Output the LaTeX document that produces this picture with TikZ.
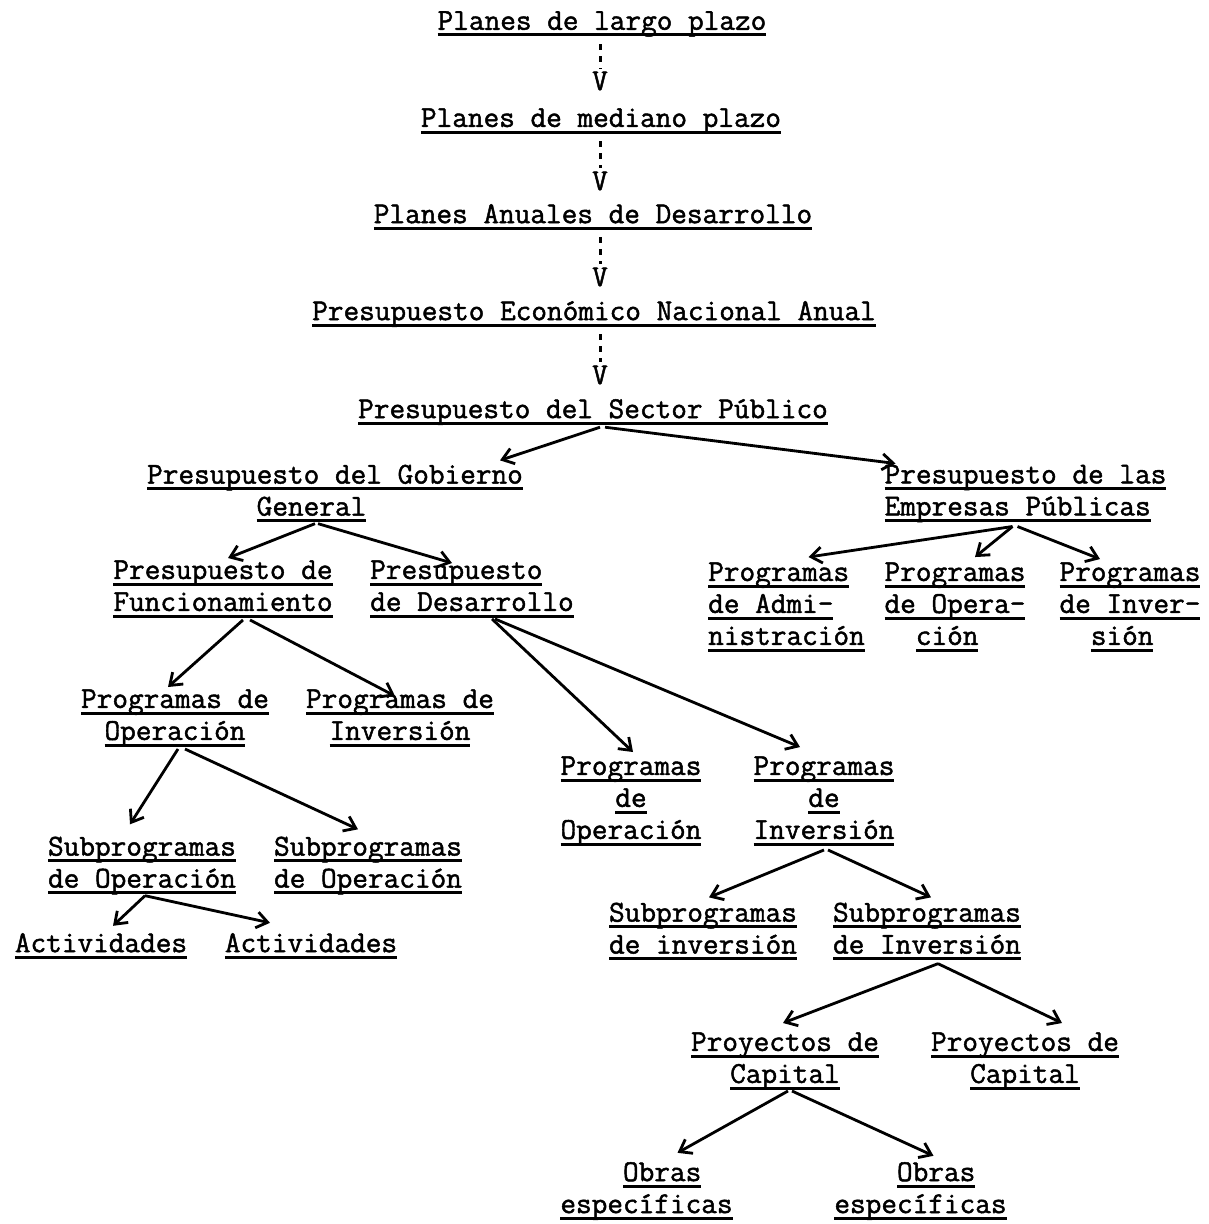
\documentclass[tikz,border=0pt]{standalone}
\usepackage{fontspec}
\newfontfamily\maquina[FakeBold=1.5]{Latin Modern Mono}
\usetikzlibrary{arrows.meta}
\usetikzlibrary{calc}

\newbox\ulbox
\newcommand{\uln}[1]{\setbox\ulbox=\hbox{#1}\rlap{\rule[-0.22em]{\wd\ulbox}{0.1em}}\box\ulbox}
\newcommand{\skipch}[1]{\hspace*{#1\fontcharwd\font`x}}

\tikzset{
  caja/.style={font=\maquina\fontsize{17.3}{18.2}\selectfont, inner sep=0pt, align=center},
  flecha/.style={-{Straight Barb[length=0.22cm,width=0.32cm]}, line width=1.6pt},
  guiones/.style={line width=1.7pt, dash pattern=on 0.12cm off 0.12cm,
    shorten <=0.14cm, shorten >=0.06cm},
}

\begin{document}
\begin{tikzpicture}[x=0.02cm, y=-0.02cm]
  \useasboundingbox (0,0) rectangle (1209,1224);

  % cadena de planes
  \node[caja] (lp) at (602,24) {\uln{Planes de largo plazo}};
  \node[caja] (v1) at (600,81) {V};
  \node[caja] (mp) at (601,121) {\uln{Planes de mediano plazo}};
  \node[caja] (v2) at (600,181) {V};
  \node[caja] (pad) at (593,217) {\uln{Planes Anuales de Desarrollo}};
  \node[caja] (v3) at (600,277) {V};
  \node[caja] (pen) at (594,314) {\uln{Presupuesto Económico Nacional Anual}};
  \node[caja] (v4) at (600,375) {V};
  \node[caja] (psp) at (593,412) {\uln{Presupuesto del Sector Público}};

  \draw[guiones] (lp.south -| v1.north) -- (v1.north);
  \draw[guiones] (mp.south -| v2.north) -- (v2.north);
  \draw[guiones] (pad.south -| v3.north) -- (v3.north);
  \draw[guiones] (pen.south -| v4.north) -- (v4.north);

  % gobierno general
  \node[caja, align=left] (gg) at (335,493.5) {\uln{Presupuesto del Gobierno}\\\skipch{7}\uln{General}};
  \node[caja] (fun) at (223,589) {\uln{Presupuesto de}\\\uln{Funcionamiento}};
  \node[caja, align=left] (des) at (472,589) {\uln{Presupuesto}\\\uln{de Desarrollo}};
  \node[caja] (pro) at (175,718) {\uln{Programas de}\\\uln{Operación}};
  \node[caja] (pri) at (400,718) {\uln{Programas de}\\\uln{Inversión}};
  \node[caja] (so1) at (142,865.5) {\uln{Subprogramas}\\\uln{de Operación}};
  \node[caja] (so2) at (368,865.5) {\uln{Subprogramas}\\\uln{de Operación}};
  \node[caja] (ac1) at (101,946) {\uln{Actividades}};
  \node[caja] (ac2) at (311,946) {\uln{Actividades}};
  \node[caja] (pdo) at (631,801) {\uln{Programas}\\\uln{de}\\\uln{Operación}};
  \node[caja] (pdi) at (824,801) {\uln{Programas}\\\uln{de}\\\uln{Inversión}};
  \node[caja] (si1) at (703,931.5) {\uln{Subprogramas}\\\uln{de inversión}};
  \node[caja] (si2) at (927,931.5) {\uln{Subprogramas}\\\uln{de Inversión}};
  \node[caja] (pc1) at (785,1061) {\uln{Proyectos de}\\\uln{Capital}};
  \node[caja] (pc2) at (1025,1061) {\uln{Proyectos de}\\\uln{Capital}};
  \node[caja, align=left] (ob1) at (646.5,1191) {\skipch{4}\uln{Obras}\\\uln{específicas}};
  \node[caja, align=left] (ob2) at (920.5,1191) {\skipch{4}\uln{Obras}\\\uln{específicas}};

  % empresas publicas
  \node[caja, align=left] (ep) at (1025.5,493.5) {\uln{Presupuesto de las}\\\uln{Empresas Públicas}};
  \node[caja, align=left] (adm) at (786.5,607) {\uln{Programas}\\\uln{de Admi-}\\\uln{nistración}};
  \node[caja, align=left] (ope) at (955,607) {\uln{Programas}\\\uln{de Opera-}\\\skipch{2}\uln{ción}};
  \node[caja, align=left] (inv) at (1130,607) {\uln{Programas}\\\uln{de Inver-}\\\skipch{2}\uln{sión}};

  \draw[flecha] ($(psp.south)+(7,2)$) -- ($(gg.north)+(165,-4)$);
  \draw[flecha] ($(psp.south)+(12,2)$) -- ($(ep.north)+(-130,-1)$);
  \draw[flecha] ($(gg.south)+(-20,1)$) -- ($(fun.north)+(5,-2)$);
  \draw[flecha] ($(gg.south)+(-17,1)$) -- ($(des.north)+(-20,3)$);
  \draw[flecha] ($(ep.south)+(-13,4)$) -- ($(adm.north)+(22,-5)$);
  \draw[flecha] ($(ep.south)+(-13,4)$) -- ($(ope.north)+(20,-5)$);
  \draw[flecha] ($(ep.south)+(-8,4)$) -- ($(inv.north)+(-30,-3)$);
  \draw[flecha] ($(fun.south)+(20,2)$) -- ($(pro.north)+(-7,-2)$);
  \draw[flecha] ($(fun.south)+(27,2)$) -- ($(pri.north)+(-5,7)$);
  \draw[flecha] ($(des.south)+(20,1)$) -- ($(pdo.north)+(2,-4)$);
  \draw[flecha] ($(des.south)+(23,1)$) -- ($(pdi.north)+(-24,-9)$);
  \draw[flecha] ($(pro.south)+(3,2)$) -- ($(so1.north)+(-12,-12)$);
  \draw[flecha] ($(pro.south)+(10,2)$) -- ($(so2.north)+(-10,-7)$);
  \draw[flecha] ($(so1.south)+(3,1)$) -- ($(ac1.north)+(12,-7)$);
  \draw[flecha] ($(so1.south)+(3,1)$) -- ($(ac2.north)+(-41,-10)$);
  \draw[flecha] ($(pdi.south)+(0,4)$) -- ($(si1.north)+(6,-5)$);
  \draw[flecha] ($(pdi.south)+(4,4)$) -- ($(si2.north)+(4,-5)$);
  \draw[flecha] ($(si2.south)+(11,3)$) -- ($(pc1.north)+(-2,-9)$);
  \draw[flecha] ($(si2.south)+(11,3)$) -- ($(pc2.north)+(37,-9)$);
  \draw[flecha] ($(pc1.south)+(3,1)$) -- ($(ob1.north)+(31,-9)$);
  \draw[flecha] ($(pc1.south)+(7,1)$) -- ($(ob2.north)+(13,-6)$);
\end{tikzpicture}
\end{document}
